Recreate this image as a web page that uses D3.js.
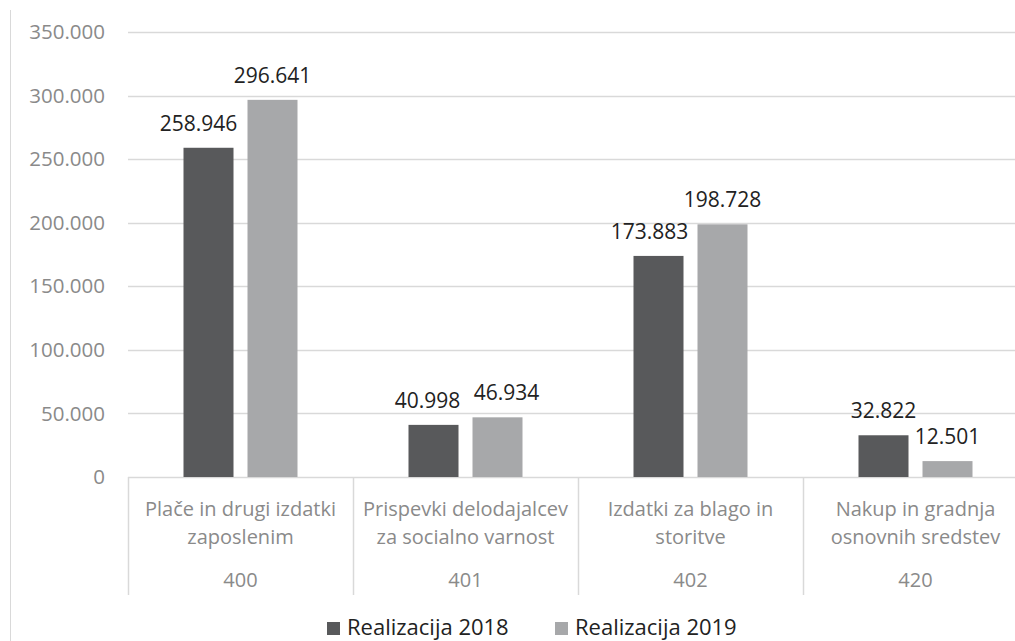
<!DOCTYPE html>
<html><head><meta charset="utf-8">
<script src="https://cdn.jsdelivr.net/npm/d3@7/dist/d3.min.js"></script>
<style>body{margin:0;background:#fff}svg{display:block}text{font-family:"Open Sans",sans-serif}</style>
</head><body><svg id="c" width="1015" height="641"></svg>
<script>
const categories = ["Plače in drugi izdatki|zaposlenim","Prispevki delodajalcev|za socialno varnost","Izdatki za blago in|storitve","Nakup in gradnja|osnovnih sredstev"];
const codes = ["400","401","402","420"];
const seriesNames = ["Realizacija 2018","Realizacija 2019"];
const values2018 = [258946, 40998, 173883, 32822];
const values2019 = [296641, 46934, 198728, 12501];
const yTicks = [0,50000,100000,150000,200000,250000,300000,350000];
const colors = ["#58595b","#a7a8aa"];
const labelDx = [[-10,0],[-6,9],[-9,0],[0,0]];

const svg = d3.select("#c");
const pLeft = 128, pRight = 1028, pTop = 32, pBottom = 477;
const x = d3.scaleBand().domain(codes).range([pLeft,pRight]);
const y = d3.scaleLinear().domain([0,350000]).range([pBottom,pTop]);
const fmt = v => d3.format(",")(v).replace(/,/g,".");

// left border
svg.append("line").attr("x1",10.5).attr("x2",10.5).attr("y1",10).attr("y2",641).attr("stroke","#d9d9d9");

// grid
svg.append("g").selectAll("line").data(yTicks).join("line")
  .attr("x1",pLeft).attr("x2",1015).attr("y1",d=>Math.round(y(d))+0.5).attr("y2",d=>Math.round(y(d))+0.5)
  .attr("stroke","#d9d9d9").attr("stroke-width",1.5);
svg.append("g").selectAll("text").data(yTicks).join("text")
  .attr("x",105).attr("y",d=>y(d)).attr("dy","0.35em").attr("text-anchor","end")
  .attr("fill","#8a8a8a").attr("font-size",20.5).text(d=>d===0?"0":fmt(d));

// category separators
svg.append("g").selectAll("line").data(codes.map(c=>x(c)).concat([pRight])).join("line")
  .attr("x1",d=>Math.round(d)+0.5).attr("x2",d=>Math.round(d)+0.5).attr("y1",pBottom).attr("y2",595)
  .attr("stroke","#d9d9d9").attr("stroke-width",1.5);

const series = [values2018, values2019];
const bw = 50, gap = 14;
const inner = d3.scaleBand().domain([0,1]).range([0,2*bw+gap]).paddingInner(gap/(bw+gap));
series.forEach((vals,si)=>{
  const g = svg.append("g");
  g.selectAll("rect").data(vals).join("rect")
    .attr("x",(d,i)=>x(codes[i])+x.bandwidth()/2-(2*bw+gap)/2+inner(si))
    .attr("width",inner.bandwidth())
    .attr("y",d=>y(d)).attr("height",d=>pBottom-y(d)).attr("fill",colors[si]);
  g.selectAll("text").data(vals).join("text")
    .attr("x",(d,i)=>x(codes[i])+x.bandwidth()/2-(2*bw+gap)/2+inner(si)+inner.bandwidth()/2+labelDx[i][si])
    .attr("y",d=>y(d)-17).attr("text-anchor","middle").attr("fill","#222")
    .attr("font-size",21).text(d=>fmt(d));
});

// category labels
const cl = svg.append("g");
categories.forEach((c,i)=>{
  const cx = x(codes[i])+x.bandwidth()/2;
  c.split("|").forEach((line,k)=>{
    cl.append("text").attr("x",cx).attr("y",509+k*28).attr("dy","0.35em").attr("text-anchor","middle")
      .attr("fill","#8a8a8a").attr("font-size",20).text(line);
  });
  cl.append("text").attr("x",cx).attr("y",580).attr("dy","0.35em").attr("text-anchor","middle")
    .attr("fill","#8a8a8a").attr("font-size",20).text(codes[i]);
});

// legend
const lx = [327,555];
seriesNames.forEach((n,i)=>{
  svg.append("rect").attr("x",lx[i]).attr("y",622).attr("width",13).attr("height",13).attr("fill",colors[i]);
  svg.append("text").attr("x",lx[i]+20).attr("y",635).attr("fill","#222")
    .attr("font-size",22).text(n);
});
</script></body></html>
